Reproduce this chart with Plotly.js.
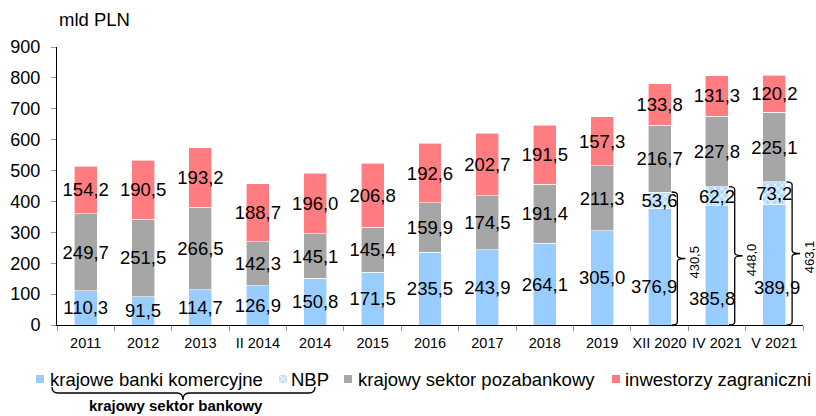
<!DOCTYPE html>
<html>
<head>
<meta charset="utf-8">
<script src="https://cdn.plot.ly/plotly-3.0.1.min.js"></script>
<style>
html,body{margin:0;padding:0;background:#fff;}
#chart{width:816px;height:416px;}
</style>
</head>
<body>
<div id="chart"></div>
<script>
// ---- data ----
const categories = ['2011','2012','2013','II 2014','2014','2015','2016','2017','2018','2019','XII 2020','IV 2021','V 2021'];
const banksCommercial = [110.3, 91.5, 114.7, 126.9, 150.8, 171.5, 235.5, 243.9, 264.1, 305.0, 376.9, 385.8, 389.9];
const nbp = [null, null, null, null, null, null, null, null, null, null, 53.6, 62.2, 73.2];
const nonBank = [249.7, 251.5, 266.5, 142.3, 145.1, 145.4, 159.9, 174.5, 191.4, 211.3, 216.7, 227.8, 225.1];
const foreign = [154.2, 190.5, 193.2, 188.7, 196.0, 206.8, 192.6, 202.7, 191.5, 157.3, 133.8, 131.3, 120.2];
const bankSectorCats = ['XII 2020', 'IV 2021', 'V 2021'];
const bankSectorTotals = [430.5, 448.0, 463.1];
const seriesNames = ['krajowe banki komercyjne', 'NBP', 'krajowy sektor pozabankowy', 'inwestorzy zagraniczni'];
const unitLabel = 'mld PLN';
const groupLabel = 'krajowy sektor bankowy';

// ---- styling ----
const FONT = 'Liberation Sans, Arial, sans-serif';
const C_BLUE = '#99CCFF', C_GREY = '#A6A6A6', C_RED = '#FF7C80', C_NBP = '#C2E0FF';
const fmt = v => (v === null || v === undefined) ? '' : v.toFixed(1).replace('.', ',');
// label nudges (px) for the blue segments next to the braces
const braceBlueShiftX = [-6, -5, 3];
const braceBlueShiftY = [-20, -33, -23];

function barTrace(name, vals, color, texts, extra) {
  const t = {
    type: 'bar', name: name, x: categories, y: vals,
    text: texts, textposition: 'inside', insidetextanchor: 'middle',
    constraintext: 'none', textangle: 0,
    textfont: {family: FONT, size: 18.5, color: '#000'},
    marker: {color: color, line: {color: '#FFFFFF', width: 0.6}},
    hoverinfo: 'x+y', showlegend: false
  };
  return Object.assign(t, extra || {});
}

const blueTexts = banksCommercial.map((v, i) => bankSectorCats.includes(categories[i]) ? '' : fmt(v));

const traces = [
  barTrace(seriesNames[0], banksCommercial, C_BLUE, blueTexts),
  barTrace(seriesNames[1], nbp, C_BLUE, nbp.map(fmt), {
    marker: {color: C_BLUE, line: {color: '#FFFFFF', width: 0.6},
      pattern: {shape: 'x', fgcolor: '#FFFFFF', bgcolor: '#B3DAFF', size: 5, solidity: 0.3, fillmode: 'replace'}}
  }),
  barTrace(seriesNames[2], nonBank, C_GREY, nonBank.map(fmt)),
  barTrace(seriesNames[3], foreign, C_RED, foreign.map(fmt))
];

// plot area in pixels (for paper helpers)
const L = 57, R = 803, T = 47, B = 325;
const px = v => (v - L) / (R - L);
const py = v => (B - v) / (B - T);

const shapes = [];
const annotations = [];

// braces for domestic banking sector totals (data coords)
bankSectorCats.forEach((c, k) => {
  const i = categories.indexOf(c);
  const tot = bankSectorTotals[k];
  const x0 = i + 0.21, xs = i + 0.31, xt = i + 0.45;
  const mid = tot / 2, r = 10;
  const path = `M ${x0},${tot} Q ${xs},${tot} ${xs},${tot - r} L ${xs},${mid + r} Q ${xs},${mid} ${xt},${mid} ` +
               `Q ${xs},${mid} ${xs},${mid - r} L ${xs},${r} Q ${xs},0 ${x0},0`;
  shapes.push({type: 'path', xref: 'x', yref: 'y', path: path, line: {color: '#000', width: 1.3}, layer: 'above'});
  annotations.push({xref: 'x', yref: 'y', x: i + 0.45, xshift: 9, y: mid - 12, text: fmt(tot), textangle: -90,
    showarrow: false, font: {family: FONT, size: 13, color: '#000'}, xanchor: 'center', yanchor: 'middle'});
  // blue segment label, nudged down like the original
  annotations.push({xref: 'x', yref: 'y', x: i, y: banksCommercial[i] / 2, text: fmt(banksCommercial[i]),
    xshift: braceBlueShiftX[k], yshift: braceBlueShiftY[k], showarrow: false,
    font: {family: FONT, size: 18.5, color: '#000'}, xanchor: 'center', yanchor: 'middle'});
});

// unit label
annotations.push({xref: 'paper', yref: 'paper', x: 0, y: py(20), text: unitLabel, showarrow: false,
  xanchor: 'left', yanchor: 'middle', font: {family: FONT, size: 18.5, color: '#000'}});

// manual legend
const legendItems = [
  {name: seriesNames[0], color: C_BLUE, sq: 36, tx: 48},
  {name: seriesNames[1], color: C_NBP, sq: 279, tx: 289},
  {name: seriesNames[2], color: C_GREY, sq: 344, tx: 356},
  {name: seriesNames[3], color: C_RED, sq: 612, tx: 623}
];
const legY = 379;
legendItems.forEach(it => {
  shapes.push({type: 'rect', xref: 'paper', yref: 'paper', x0: px(it.sq), x1: px(it.sq + 8),
    y0: py(legY - 4), y1: py(legY + 4), fillcolor: it.color, line: {width: 0}});
  annotations.push({xref: 'paper', yref: 'paper', x: px(it.tx), y: py(legY), text: it.name, showarrow: false,
    xanchor: 'left', yanchor: 'middle', font: {family: FONT, size: 18.5, color: '#000'}});
});
// NBP legend square crosshatch hint
shapes.push({type: 'path', xref: 'paper', yref: 'paper',
  path: `M ${px(279)},${py(legY - 4)} L ${px(287)},${py(legY + 4)} M ${px(279)},${py(legY + 4)} L ${px(287)},${py(legY - 4)}`,
  line: {color: '#FFFFFF', width: 1}});

// brace under legend
const bx0 = 52, bx1 = 315, bt = 183, byTop = 387, byLine = 393, byTip = 400, rr = 6;
shapes.push({type: 'path', xref: 'paper', yref: 'paper', line: {color: '#000', width: 1.3},
  path: `M ${px(bx0)},${py(byTop)} Q ${px(bx0)},${py(byLine)} ${px(bx0 + rr)},${py(byLine)} ` +
        `L ${px(bt - rr)},${py(byLine)} Q ${px(bt)},${py(byLine)} ${px(bt)},${py(byTip)} ` +
        `Q ${px(bt)},${py(byLine)} ${px(bt + rr)},${py(byLine)} L ${px(bx1 - rr)},${py(byLine)} ` +
        `Q ${px(bx1)},${py(byLine)} ${px(bx1)},${py(byTop)}`});
annotations.push({xref: 'paper', yref: 'paper', x: px(176), y: py(405), text: '<b>' + groupLabel + '</b>',
  showarrow: false, xanchor: 'center', yanchor: 'middle', font: {family: FONT, size: 15, color: '#000'}});

const layout = {
  width: 816, height: 416,
  margin: {l: L, r: 816 - R, t: T, b: 416 - B, pad: 0},
  paper_bgcolor: '#FFFFFF', plot_bgcolor: '#FFFFFF',
  barmode: 'stack', bargap: 0.6,
  showlegend: false,
  font: {family: FONT, color: '#000'},
  xaxis: {
    type: 'category', range: [-0.5, categories.length - 0.5], autorange: false,
    tickson: 'boundaries', ticks: 'outside', ticklen: 5, tickcolor: '#999999', tickwidth: 1, tickangle: 0,
    showline: true, linecolor: '#000', linewidth: 1, showgrid: false, zeroline: false,
    tickfont: {family: FONT, size: 14.5, color: '#000'}, ticklabelstandoff: 5, fixedrange: true
  },
  yaxis: {
    range: [0, 900], autorange: false, dtick: 100, ticks: 'outside', ticklen: 5, tickcolor: '#999999', tickwidth: 1,
    showline: true, linecolor: '#000', linewidth: 1, showgrid: false, zeroline: false,
    tickfont: {family: FONT, size: 18, color: '#000'}, ticklabelstandoff: 7, fixedrange: true
  },
  shapes: shapes,
  annotations: annotations
};

Plotly.newPlot('chart', traces, layout, {displayModeBar: false, staticPlot: true});
</script>
</body>
</html>
